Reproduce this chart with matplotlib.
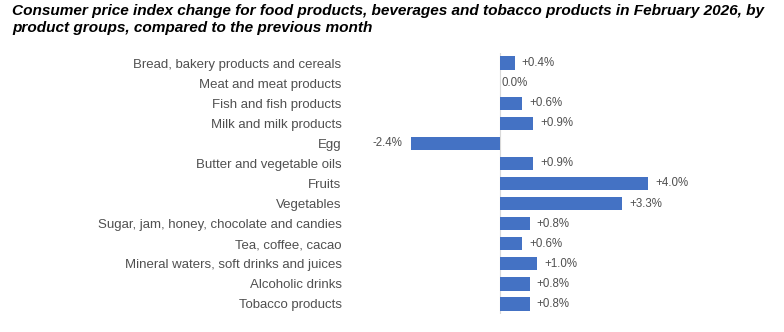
import matplotlib.pyplot as plt

categories = [
    'Bread, bakery products and cereals',
    'Meat and meat products',
    'Fish and fish products',
    'Milk and milk products',
    'Egg',
    'Butter and vegetable oils',
    'Fruits',
    'Vegetables',
    'Sugar, jam, honey, chocolate and candies',
    'Tea, coffee, cacao',
    'Mineral waters, soft drinks and juices',
    'Alcoholic drinks',
    'Tobacco products',
]
values = [0.4, 0.0, 0.6, 0.9, -2.4, 0.9, 4.0, 3.3, 0.8, 0.6, 1.0, 0.8, 0.8]

plt.rcParams['font.family'] = ['Liberation Sans', 'DejaVu Sans']

W, H = 784, 332
fig = plt.figure(figsize=(W / 100, H / 100), dpi=100)

# axes placed so x=-2.4 sits at 411px and x=4.0 at 648px
ax = fig.add_axes([411 / W, 1 - 314 / H, 237 / W, 261 / H])
pos = list(range(len(categories)))
ax.barh(pos, values, height=0.66, color='#4472C4')
ax.set_xlim(-2.4, 4.0)
ax.set_ylim(len(categories) - 0.5, -0.5)
ax.axvline(0, color='#d9d9d9', lw=0.8, zorder=0)

for i, v in enumerate(values):
    if v > 0:
        txt, ha, off = f'+{v:.1f}%', 'left', 7
    elif v < 0:
        txt, ha, off = f'{v:.1f}%', 'right', -9
    else:
        txt, ha, off = f'{v:.1f}%', 'left', 2
    ax.annotate(txt, (v, i), xytext=(off * 0.72, 0), textcoords='offset points',
                ha=ha, va='center', fontsize=8.3, color='#505050')

ax.set_yticks(pos)
ax.set_yticklabels(categories, fontsize=9.5, color='#505050')
ax.tick_params(axis='y', length=0, pad=50)
ax.set_xticks([])
for s in ax.spines.values():
    s.set_visible(False)

title_kw = dict(fontsize=11.1, fontweight='bold', fontstyle='italic', va='center', ha='left')
fig.text(12 / W, 1 - 11 / H, 'Consumer price index change for food products, beverages and tobacco products in February 2026, by',
         **title_kw)
fig.text(12 / W, 1 - 28 / H, 'product groups, compared to the previous month', **title_kw)

fig.savefig('out.png', dpi=100)
